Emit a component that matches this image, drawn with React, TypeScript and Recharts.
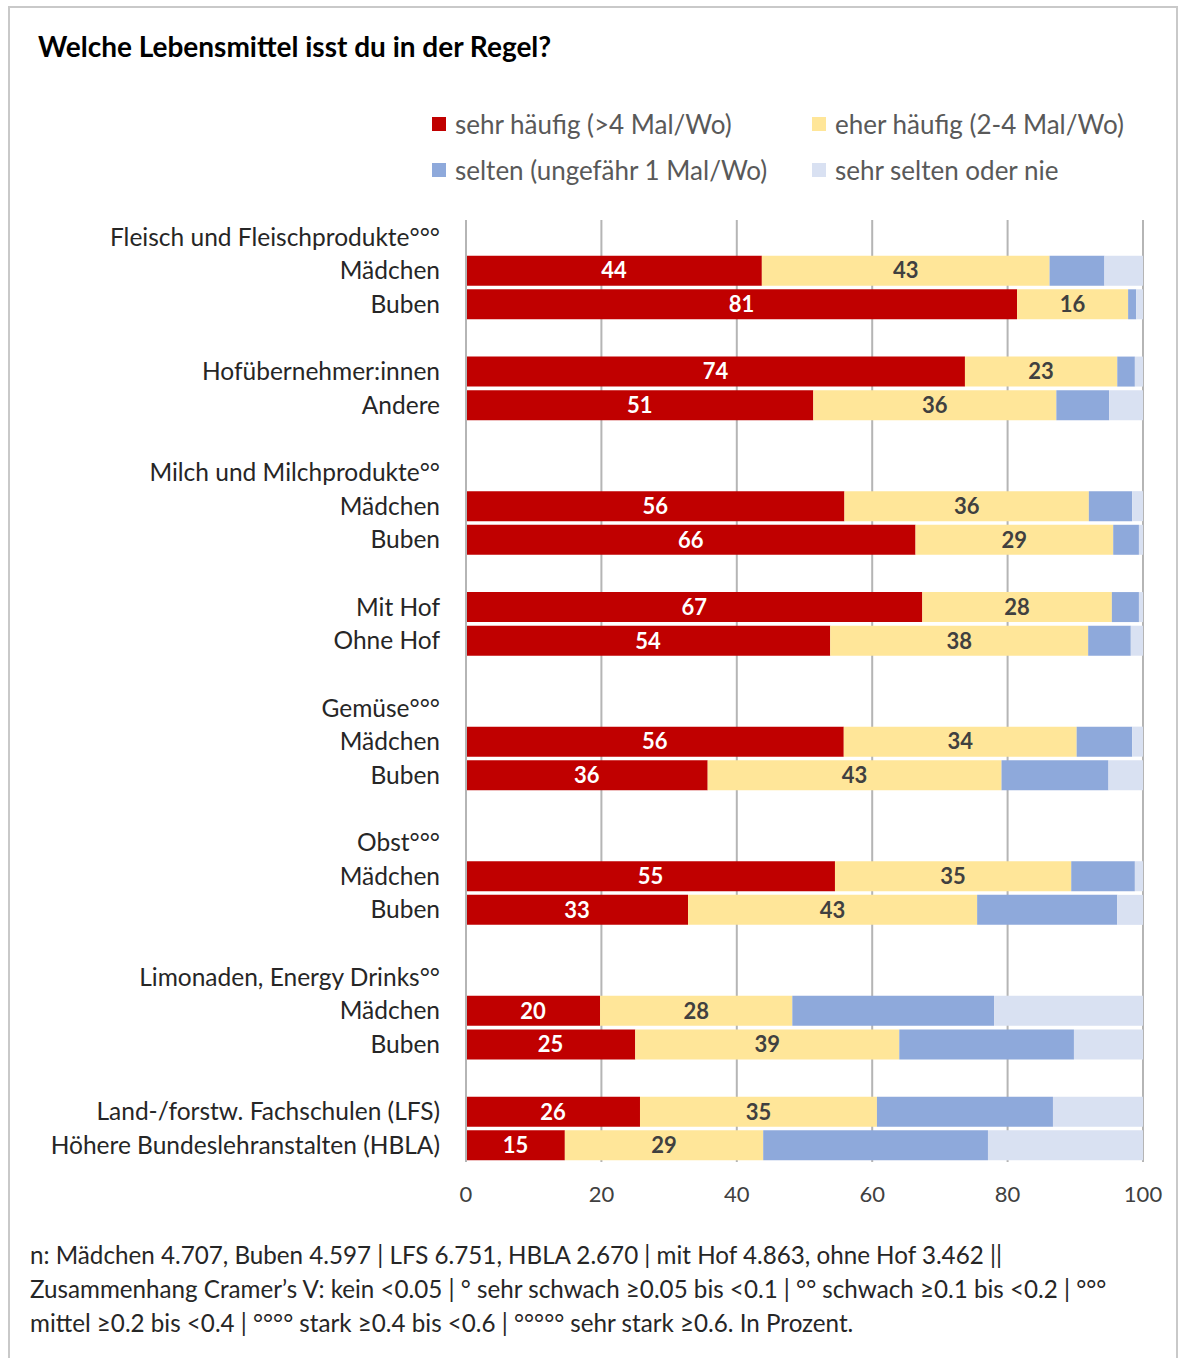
import React from "react";
import { Bar, BarChart, CartesianGrid, LabelList, XAxis, YAxis } from "recharts";

const rowLabels = [
  "Fleisch und Fleischprodukte°°°",
  "Mädchen",
  "Buben",
  "",
  "Hofübernehmer:innen",
  "Andere",
  "",
  "Milch und Milchprodukte°°",
  "Mädchen",
  "Buben",
  "",
  "Mit Hof",
  "Ohne Hof",
  "",
  "Gemüse°°°",
  "Mädchen",
  "Buben",
  "",
  "Obst°°°",
  "Mädchen",
  "Buben",
  "",
  "Limonaden, Energy Drinks°°",
  "Mädchen",
  "Buben",
  "",
  "Land-/forstw. Fachschulen (LFS)",
  "Höhere Bundeslehranstalten (HBLA)",
];

// header / spacer rows carry null
const sehrHaeufig = [null, 43.7, 81.4, null, 73.7, 51.3, null, null, 55.9, 66.4, null, 67.4, 53.8, null, null, 55.8, 35.7, null, null, 54.5, 32.8, null, null, 19.8, 25.0, null, 25.7, 14.6];
const eherHaeufig = [null, 42.5, 16.4, null, 22.5, 35.9, null, null, 36.1, 29.2, null, 28.0, 38.1, null, null, 34.4, 43.4, null, null, 34.9, 42.7, null, null, 28.4, 39.0, null, 35.0, 29.3];
const selten = [null, 8.1, 1.2, null, 2.6, 7.8, null, null, 6.4, 3.8, null, 4.0, 6.3, null, null, 8.2, 15.8, null, null, 9.4, 20.7, null, null, 29.8, 25.8, null, 26.0, 33.2];
const sehrSelten = [null, 5.7, 1.0, null, 1.2, 5.0, null, null, 1.6, 0.6, null, 0.6, 1.8, null, null, 1.6, 5.1, null, null, 1.2, 3.8, null, null, 22.0, 10.2, null, 13.3, 22.9];

const xTicks = [0, 20, 40, 60, 80, 100];

const series = [
  { key: "sehrHaeufig", name: "sehr häufig (>4 Mal/Wo)", color: "#C00000", label: "#ffffff" },
  { key: "eherHaeufig", name: "eher häufig (2-4 Mal/Wo)", color: "#FFE699", label: "#404040" },
  { key: "selten", name: "selten (ungefähr 1 Mal/Wo)", color: "#8EA9DB", label: null },
  { key: "sehrSelten", name: "sehr selten oder nie", color: "#D9E1F2", label: null },
];

const data = rowLabels.map((_, i) => ({
  id: i,
  sehrHaeufig: sehrHaeufig[i],
  eherHaeufig: eherHaeufig[i],
  selten: selten[i],
  sehrSelten: sehrSelten[i],
}));

const FONT = "Lato, 'Noto Sans', sans-serif";

export default function App() {
  return (
    <div style={{ position: "absolute", left: 0, top: 0, width: 1178, height: 1358, background: "#fff", fontFamily: FONT, overflow: "hidden" }}>
      <div style={{ position: "absolute", left: 8, top: 6, width: 1170, height: 1360, border: "2px solid #c9c9c9", boxSizing: "border-box" }} />
      <div style={{ position: "absolute", left: 38, top: 29, fontSize: 28, fontWeight: 700, color: "#000" }}>
        Welche Lebensmittel isst du in der Regel?
      </div>

      {/* legend */}
      {series.map((s, i) => (
        <div
          key={s.key}
          style={{
            position: "absolute",
            left: i % 2 === 0 ? 432 : 812,
            top: i < 2 ? 108 : 154,
            display: "flex",
            alignItems: "center",
            fontSize: 26,
            color: "#595959",
            whiteSpace: "nowrap",
          }}
        >
          <span style={{ width: 14, height: 14, background: s.color, display: "inline-block", marginRight: 9 }} />
          {s.name}
        </div>
      ))}

      <div style={{ position: "absolute", left: 0, top: 200 }}>
        <BarChart
          width={1178}
          height={1012}
          data={data}
          layout="vertical"
          margin={{ top: 20, right: 35, left: 0, bottom: 0 }}
          barSize={30}
        >
          <CartesianGrid horizontal={false} stroke="#b5b5b5" strokeWidth={2} />
          <XAxis
            type="number"
            domain={[0, 100]}
            ticks={xTicks}
            axisLine={false}
            tickLine={false}
            tickSize={0}
            tickMargin={24}
            height={50}
            tick={{ fill: "#404040", fontSize: 22, fontFamily: FONT }}
          />
          <YAxis
            type="category"
            dataKey="id"
            width={466}
            interval={0}
            tickLine={false}
            tickSize={0}
            tickMargin={26}
            axisLine={{ stroke: "#b5b5b5", strokeWidth: 2 }}
            tickFormatter={(v: number) => rowLabels[v]}
            tick={{ fill: "#262626", fontSize: 24.5, fontFamily: FONT }}
          />
          {series.map((s) => (
            <Bar key={s.key} dataKey={s.key} stackId="a" fill={s.color} isAnimationActive={false}>
              {s.label && (
                <LabelList
                  dataKey={s.key}
                  position="center"
                  fill={s.label}
                  fontSize={22}
                  fontWeight={700}
                  fontFamily={FONT}
                  formatter={(v: any) => (v == null ? "" : Math.round(v))}
                />
              )}
            </Bar>
          ))}
        </BarChart>
      </div>

      <div style={{ position: "absolute", left: 30, top: 1238, fontSize: 24.2, lineHeight: "34px", color: "#262626", width: 1140, whiteSpace: "nowrap" }}>
        <div>n: Mädchen 4.707, Buben 4.597 | LFS 6.751, HBLA 2.670 | mit Hof 4.863, ohne Hof 3.462 ||</div>
        <div>Zusammenhang Cramer’s V: kein &lt;0.05 | ° sehr schwach ≥0.05 bis &lt;0.1 | °° schwach ≥0.1 bis &lt;0.2 | °°°</div>
        <div>mittel ≥0.2 bis &lt;0.4 | °°°° stark ≥0.4 bis &lt;0.6 | °°°°° sehr stark ≥0.6. In Prozent.</div>
      </div>
    </div>
  );
}
